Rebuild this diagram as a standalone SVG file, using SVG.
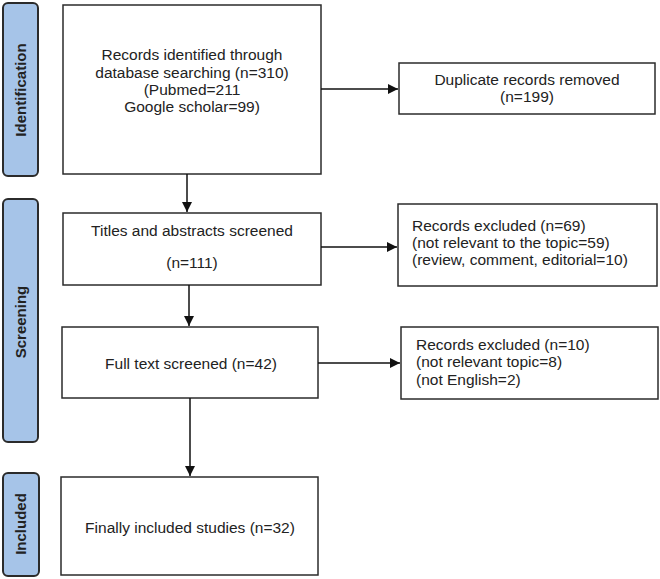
<svg xmlns="http://www.w3.org/2000/svg" width="660" height="579" viewBox="0 0 660 579">
<style>
.bar{fill:#a6c4e8;stroke:#2b2b2b;stroke-width:2}
.box{fill:#fff;stroke:#2b2b2b;stroke-width:1.5}
.t{font-family:"Liberation Sans",Arial,sans-serif;font-size:15.5px;fill:#222}
.c{text-anchor:middle}
.lab{font-family:"Liberation Sans",Arial,sans-serif;font-size:15px;font-weight:bold;fill:#222;text-anchor:middle}
.ln{stroke:#111;stroke-width:1.5;fill:none}
</style>
<defs>
<marker id="ah" viewBox="0 0 10 10" refX="10" refY="5" markerWidth="10" markerHeight="10" markerUnits="userSpaceOnUse" orient="auto">
<path d="M0,0 L10,5 L0,10 Z" fill="#111"/>
</marker>
</defs>
<rect width="660" height="579" fill="#fff"/>
<g id="bar-identification">
<rect class="bar" x="3" y="3" width="35" height="173" rx="5"/>
<text class="lab" transform="translate(26,90) rotate(-90)">Identification</text>
</g>
<g id="bar-screening">
<rect class="bar" x="3" y="199" width="35" height="243" rx="5"/>
<text class="lab" transform="translate(26,322) rotate(-90)">Screening</text>
</g>
<g id="bar-included">
<rect class="bar" x="3" y="473" width="36" height="103" rx="5"/>
<text class="lab" transform="translate(26,524) rotate(-90)">Included</text>
</g>
<g id="records">
<rect class="box" x="63" y="5" width="258" height="169"/>
<text class="t c" x="192" y="60">Records identified through</text>
<text class="t c" x="192" y="78">database searching (n=310)</text>
<text class="t c" x="192" y="95">(Pubmed=211</text>
<text class="t c" x="192" y="112">Google scholar=99)</text>
</g>
<g id="duplicates">
<rect class="box" x="399" y="63" width="256" height="51"/>
<text class="t c" x="527" y="85">Duplicate records removed</text>
<text class="t c" x="527" y="102">(n=199)</text>
</g>
<g id="titles">
<rect class="box" x="63" y="213" width="258" height="72"/>
<text class="t c" x="192" y="236">Titles and abstracts screened</text>
<text class="t c" x="192" y="268">(n=111)</text>
</g>
<g id="excluded1">
<rect class="box" x="398" y="204" width="259" height="82"/>
<text class="t" x="412" y="231">Records excluded (n=69)</text>
<text class="t" x="412" y="248">(not relevant to the topic=59)</text>
<text class="t" x="412" y="265">(review, comment, editorial=10)</text>
</g>
<g id="fulltext">
<rect class="box" x="62" y="327" width="256" height="71"/>
<text class="t c" x="191" y="369">Full text screened (n=42)</text>
</g>
<g id="excluded2">
<rect class="box" x="401" y="327" width="257" height="72"/>
<text class="t" x="416" y="350">Records excluded (n=10)</text>
<text class="t" x="416" y="367">(not relevant topic=8)</text>
<text class="t" x="416" y="385">(not English=2)</text>
</g>
<g id="included">
<rect class="box" x="61" y="477" width="257" height="98"/>
<text class="t c" x="190" y="533">Finally included studies (n=32)</text>
</g>
<g id="connectors">
<line class="ln" x1="321" y1="89" x2="398" y2="89" marker-end="url(#ah)"/>
<line class="ln" x1="187" y1="174" x2="187" y2="212" marker-end="url(#ah)"/>
<line class="ln" x1="321" y1="247" x2="397" y2="247" marker-end="url(#ah)"/>
<line class="ln" x1="189" y1="285" x2="189" y2="326" marker-end="url(#ah)"/>
<line class="ln" x1="318" y1="363" x2="400" y2="363" marker-end="url(#ah)"/>
<line class="ln" x1="190" y1="398" x2="190" y2="476" marker-end="url(#ah)"/>
</g>
</svg>
